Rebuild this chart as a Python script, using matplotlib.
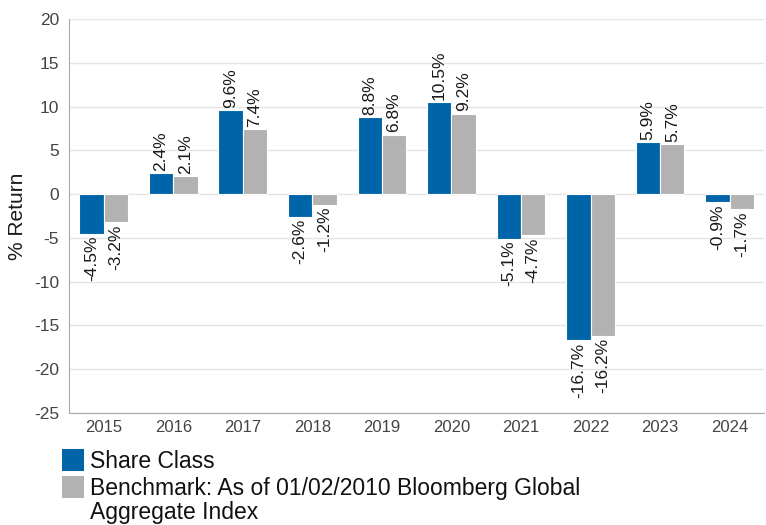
import matplotlib
matplotlib.use("Agg")
import matplotlib.pyplot as plt
import numpy as np
from matplotlib.patches import Rectangle

years = ["2015", "2016", "2017", "2018", "2019", "2020", "2021", "2022", "2023", "2024"]
share_class = [-4.5, 2.4, 9.6, -2.6, 8.8, 10.5, -5.1, -16.7, 5.9, -0.9]
benchmark = [-3.2, 2.1, 7.4, -1.2, 6.8, 9.2, -4.7, -16.2, 5.7, -1.7]
series_names = ["Share Class", "Benchmark: As of 01/02/2010 Bloomberg Global", "Aggregate Index"]
yticks = [-25, -20, -15, -10, -5, 0, 5, 10, 15, 20]

plt.rcParams['font.family'] = ['Liberation Sans', 'DejaVu Sans']
blue = "#0065A8"
gray = "#B2B2B2"

W, H = 766, 525
fig = plt.figure(figsize=(W / 100, H / 100), dpi=100)
ax = fig.add_axes([0.090, 0.2133, 0.908, 0.7505])

x = np.arange(len(years))
w = 0.35
b1 = ax.bar(x - w/2, share_class, w, color=blue, edgecolor="white", linewidth=0.8, zorder=3)
b2 = ax.bar(x + w/2, benchmark, w, color=gray, edgecolor="white", linewidth=0.8, zorder=3)

for bars, vals in ((b1, share_class), (b2, benchmark)):
    for rect, v in zip(bars, vals):
        cx = rect.get_x() + rect.get_width() / 2
        if v >= 0:
            ax.annotate(f"{v:.1f}%", (cx, v), xytext=(0, 1.5), textcoords="offset points",
                        rotation=90, ha="center", va="bottom", fontsize=12.5, color="#1a1a1a")
        else:
            ax.annotate(f"{v:.1f}%", (cx, v), xytext=(0, -1.5), textcoords="offset points",
                        rotation=90, ha="center", va="top", fontsize=12.5, color="#1a1a1a")

ax.set_ylim(-25, 20)
ax.set_xlim(-0.5, len(years) - 0.5)
ax.set_yticks(yticks)
ax.set_yticklabels([str(t) for t in yticks], fontsize=12.5, color="#444444")
ax.set_xticks(x)
ax.set_xticklabels(years, fontsize=12, color="#444444")
ax.tick_params(axis="y", length=0, pad=7)
ax.tick_params(axis="x", length=0, pad=5)
ax.yaxis.grid(True, color="#E5E5E5", linewidth=1, zorder=0)
ax.set_axisbelow(True)
for s in ("top", "right"):
    ax.spines[s].set_visible(False)
ax.spines["left"].set_color("#AAAAAA")
ax.spines["bottom"].set_color("#AAAAAA")
ax.set_ylabel("% Return", fontsize=15, color="#1a1a1a", labelpad=5)

# legend drawn manually (pixel layout converted to figure fractions)
def fx(px):
    return px / W

def fy(py):
    return 1 - py / H

fig.add_artist(Rectangle((fx(62), fy(471)), 22 / W, 22 / H, transform=fig.transFigure,
                         facecolor=blue, edgecolor="none"))
fig.add_artist(Rectangle((fx(62), fy(498)), 22 / W, 22 / H, transform=fig.transFigure,
                         facecolor=gray, edgecolor="none"))
fig.text(fx(90), fy(461), series_names[0], fontsize=16.5, va="center", ha="left", color="#111111")
fig.text(fx(90), fy(489), series_names[1], fontsize=16.5, va="center", ha="left", color="#111111")
fig.text(fx(90), fy(513), series_names[2], fontsize=16.5, va="center", ha="left", color="#111111")

fig.savefig("out.png", dpi=100)
